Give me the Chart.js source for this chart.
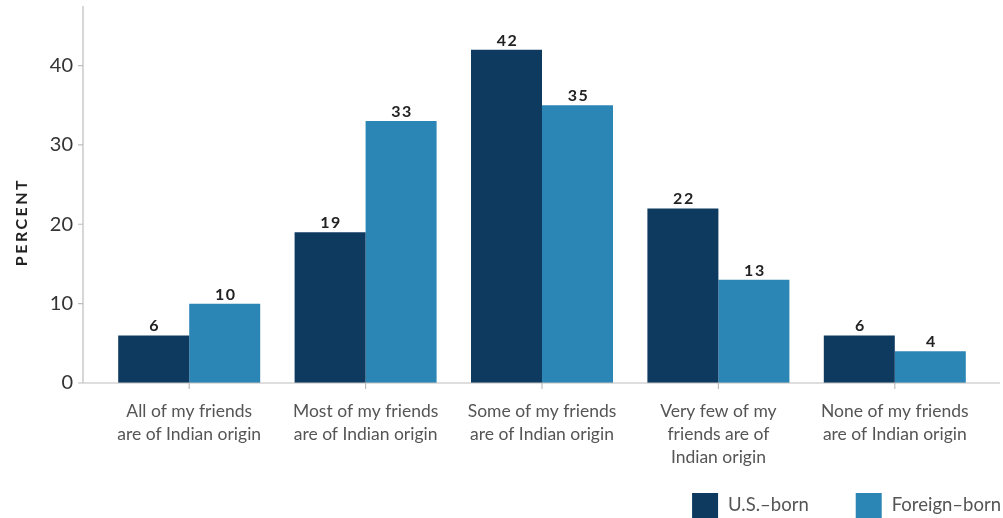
<!DOCTYPE html>
<html>
<head>
<meta charset="utf-8">
<script src="https://cdn.jsdelivr.net/npm/chart.js@4/dist/chart.umd.min.js"></script>
<style>
  html, body { margin: 0; padding: 0; background: #fff; }
  #wrap { width: 1003px; height: 518px; }
</style>
</head>
<body>
<div id="wrap"><canvas id="friendsCanvas"></canvas></div>
<script>
// chart values
var categories = [
    ["All of my friends", "are of Indian origin"],
    ["Most of my friends", "are of Indian origin"],
    ["Some of my friends", "are of Indian origin"],
    ["Very few of my", "friends are of", "Indian origin"],
    ["None of my friends", "are of Indian origin"]
];
var seriesNames = ["U.S.\u2013born", "Foreign\u2013born"];
var usBorn = [6, 19, 42, 22, 6];
var foreignBorn = [10, 33, 35, 13, 4];
var yTicks = [0, 10, 20, 30, 40];

var DARK = "#0f3a60";
var LIGHT = "#2c86b5";
var AXIS = "#bdbdbd";

/*
 * Draws the bits the library doesn't give us out of the box:
 * axis lines drawn past the category area, tick marks, the
 * vertical axis title, value labels and the legend.
 */
var extras = {
    id: "extras",
    afterDraw: function(chart) {
        var ctx = chart.ctx;
        var x = chart.scales.x;
        var y = chart.scales.y;
        var area = chart.chartArea;
        var axisLeft = area.left - 18;
        var axisRight = area.right + 17;

        ctx.save();
        ctx.strokeStyle = AXIS;
        ctx.lineWidth = 1.2;
        ctx.beginPath();
        ctx.moveTo(axisLeft, area.top);
        ctx.lineTo(axisLeft, area.bottom);
        ctx.moveTo(axisLeft, area.bottom);
        ctx.lineTo(axisRight, area.bottom);
        yTicks.forEach(function(t) {
            var py = y.getPixelForValue(t);
            ctx.moveTo(axisLeft - 5, py);
            ctx.lineTo(axisLeft, py);
        });
        categories.forEach(function(c, i) {
            var px = x.getPixelForValue(i);
            ctx.moveTo(px, area.bottom);
            ctx.lineTo(px, area.bottom + 6);
        });
        ctx.stroke();

        // axis title
        ctx.save();
        ctx.translate(22, 222);
        ctx.rotate(-Math.PI / 2);
        ctx.fillStyle = "#222";
        ctx.font = "bold 16px Lato";
        ctx.letterSpacing = "2.5px";
        ctx.textAlign = "center";
        ctx.textBaseline = "middle";
        ctx.fillText("PERCENT", 0, 0);
        ctx.restore();

        // value labels
        ctx.fillStyle = "#222";
        ctx.font = "bold 16px Lato";
        ctx.letterSpacing = "1.5px";
        ctx.textAlign = "center";
        ctx.textBaseline = "alphabetic";
        chart.data.datasets.forEach(function(ds, di) {
            chart.getDatasetMeta(di).data.forEach(function(bar, i) {
                ctx.fillText(String(ds.data[i]), bar.x + 1, bar.y - 4);
            });
        });

        // legend, right aligned at the bottom
        ctx.letterSpacing = "0px";
        ctx.font = "18.5px Lato";
        ctx.textAlign = "left";
        ctx.textBaseline = "middle";
        var box = 26, gapText = 10, gapItem = 47;
        var widths = chart.data.datasets.map(function(ds) {
            return box + gapText + ctx.measureText(ds.label).width;
        });
        var total = widths.reduce(function(a, b) { return a + b; }, 0) + gapItem * (widths.length - 1);
        var lx = 1001 - total;
        var ly = 493;
        chart.data.datasets.forEach(function(ds, di) {
            ctx.fillStyle = ds.backgroundColor;
            ctx.fillRect(lx, ly, box, box);
            ctx.fillStyle = "#555";
            ctx.fillText(ds.label, lx + box + gapText, ly + box / 2 - 1);
            lx += widths[di] + gapItem;
        });
        ctx.restore();
    }
};

var ctx = document.getElementById("friendsCanvas").getContext("2d");

var myChart = new Chart(ctx, {
    type: "bar",
    data: {
        labels: categories,
        datasets: [
            { label: seriesNames[0], data: usBorn, backgroundColor: DARK },
            { label: seriesNames[1], data: foreignBorn, backgroundColor: LIGHT }
        ]
    },
    options: {
        responsive: true,
        maintainAspectRatio: false,
        animation: false,
        layout: {
            padding: { top: 6, left: 0, right: 20, bottom: 35 }
        },
        datasets: {
            bar: { categoryPercentage: 0.805, barPercentage: 1.0 }
        },
        plugins: {
            legend: { display: false },
            tooltip: { enabled: false }
        },
        scales: {
            x: {
                grid: { display: false, drawTicks: false },
                border: { display: false },
                ticks: {
                    color: "#555",
                    padding: 17,
                    maxRotation: 0,
                    autoSkip: false,
                    font: { family: "Lato", size: 17.5, lineHeight: 1.32 }
                },
                afterFit: function(scale) { scale.height = 100; }
            },
            y: {
                min: 0,
                max: 47.5,
                afterBuildTicks: function(scale) {
                    scale.ticks = yTicks.map(function(v) { return { value: v }; });
                },
                grid: { display: false, drawTicks: false },
                border: { display: false },
                ticks: {
                    color: "#333",
                    padding: 28,
                    font: { family: "Lato", size: 20 }
                },
                afterFit: function(scale) {
                    // the tick padding would otherwise push the plot top down
                    scale.width = 101;
                    scale.paddingTop = 0;
                    scale.paddingBottom = 0;
                }
            }
        }
    },
    plugins: [extras]
});
</script>
</body>
</html>
